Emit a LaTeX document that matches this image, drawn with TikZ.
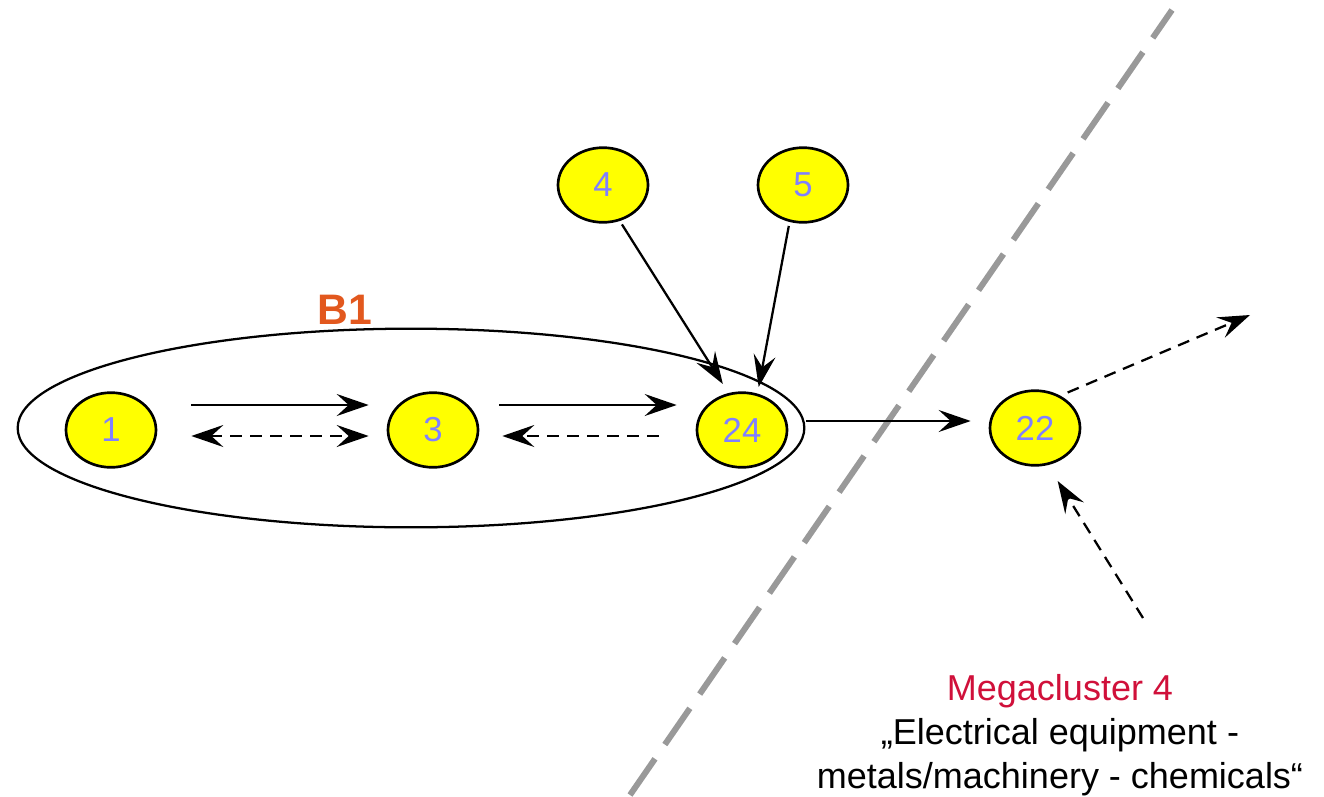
\documentclass[tikz,border=0pt]{standalone}
\usepackage{fontspec}
\setmainfont{Liberation Sans}
\usetikzlibrary{arrows.meta, calc, shapes.geometric}

\definecolor{firmyellow}{RGB}{255,255,0}
\definecolor{labelblue}{RGB}{128,128,255}
\definecolor{clusterorange}{RGB}{226,88,30}
\definecolor{megared}{RGB}{208,16,58}
\definecolor{bordergray}{RGB}{153,153,153}

\begin{document}
\begin{tikzpicture}[x = 0.75pt, y = -0.75pt,
	> = {Stealth[length = 24pt, width = 16.5pt, inset = 9pt]},
	firm/.style = {ellipse, draw, line width = 2pt, fill = firmyellow,
		minimum width = 67.5pt, minimum height = 56pt, inner sep = 0pt,
		text = labelblue, font = \fontsize{26}{30}\selectfont},
	link/.style = {->, line width = 1.7pt},
	weaklink/.style = {link, dash pattern = on 9pt off 6pt},
	divider/.style = {line width = 4.5pt, bordergray, dash pattern = on 33pt off 13pt}]

	\useasboundingbox (0, 0) rectangle (1324, 796);

	% Border between the clusters

	\coordinate (divlow) at (630, 795);
	\coordinate (divhigh) at (1172, 10);
	\draw [divider] (divlow) -- (divhigh);

	% Cluster B1

	\node (b1) [ellipse, draw, line width = 1.7pt, minimum width = 590pt, minimum height = 149pt] at (411, 428) {};
	\node (b1label) [text = clusterorange, font = \bfseries\fontsize{32}{38}\selectfont] at (345, 310) {B1};

	% Firms

	\node (n1) [firm] at (111, 430) {1};
	\node (n3) [firm] at (433, 430) {3};
	\node (n24) [firm] at (742, 430) {24};
	\node (n4) [firm] at (603, 185) {4};
	\node (n5) [firm] at (803, 185) {5};
	\node (n22) [firm] at (1035, 428) {22};

	% Links inside B1

	\draw [link] ($(n1.east) + (34, -25)$) -- ($(n3.west) + (-18, -25)$);
	\draw [weaklink, <->] ($(n1.east) + (34, 6)$) -- ($(n3.west) + (-18, 6)$);
	\draw [link] ($(n3.east) + (20, -25)$) -- ($(n24.west) + (-19, -25)$);
	\draw [weaklink] ($(n24.west) + (-37, 6)$) -- ($(n3.east) + (23, 6)$);

	% Links into 24

	\draw [link, shorten < = 3pt, shorten > = 8pt] (n4.-65) -- (n24.110);
	\draw [link, shorten < = 3pt, shorten > = 5pt] (n5.-110) -- (n24.67);

	% Links across the border

	\draw [link] ($(n24.east) + (18, -9)$) -- ($(n22.west) + (-18, -7)$);
	\coordinate (outend) at (1250, 315);
	\draw [weaklink, shorten < = 6pt] (n22.52) -- (outend);
	\coordinate (instart) at (1143, 618);
	\draw [weaklink, shorten > = 14pt] (instart) -- (n22.-71);

	% Megacluster label

	\node (mc) [align = center, font = \fontsize{27}{33}\selectfont] at (1060, 735)
		{\textcolor{megared}{Megacluster 4}\\„Electrical equipment -\\metals/machinery - chemicals“};

\end{tikzpicture}
\end{document}
